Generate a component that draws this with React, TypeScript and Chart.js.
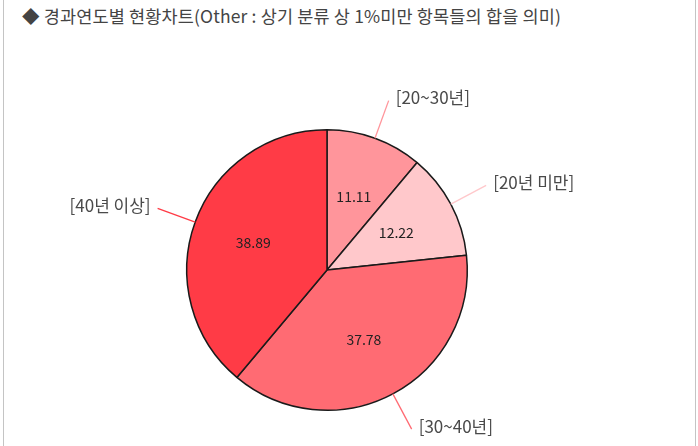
import React, { useEffect, useRef } from "react";
import { Chart, registerables } from "chart.js";

Chart.register(...registerables);

const categories = ["[20~30년]", "[20년 미만]", "[30~40년]", "[40년 이상]"];
const values = [11.11, 12.22, 37.78, 38.89];
const colors = ["#ff959b", "#ffc8cb", "#ff6b73", "#ff3b46"];
const title = "◆ 경과연도별 현황차트(Other : 상기 분류 상 1%미만 항목들의 합을 의미)";

const FONT = '"Noto Sans CJK KR", "Noto Sans", sans-serif';

const labelPlugin = {
  id: "pieLabels",
  afterDatasetsDraw(chart: any) {
    const ctx = chart.ctx;
    const meta = chart.getDatasetMeta(0);
    ctx.save();
    meta.data.forEach((arc: any, i: number) => {
      const { x, y, startAngle, endAngle, outerRadius } = arc.getProps(
        ["x", "y", "startAngle", "endAngle", "outerRadius"],
        true
      );
      const mid = (startAngle + endAngle) / 2;
      const cos = Math.cos(mid);
      const sin = Math.sin(mid);
      // value label
      const rv = outerRadius * 0.56;
      ctx.fillStyle = "#222";
      ctx.font = `14px ${FONT}`;
      ctx.textAlign = "center";
      ctx.textBaseline = "middle";
      ctx.fillText(values[i].toFixed(2), x + cos * rv, y + sin * rv);
      // leader line
      const x0 = x + cos * outerRadius;
      const y0 = y + sin * outerRadius;
      const x1 = x + cos * (outerRadius + 40);
      const y1 = y + sin * (outerRadius + 40);
      ctx.strokeStyle = colors[i];
      ctx.lineWidth = 1.3;
      ctx.beginPath();
      ctx.moveTo(x0, y0);
      ctx.lineTo(x1, y1);
      ctx.stroke();
      // category label
      ctx.fillStyle = "#4a4a4a";
      ctx.font = `17px ${FONT}`;
      ctx.textBaseline = "middle";
      if (cos >= 0) {
        ctx.textAlign = "left";
        ctx.fillText(categories[i], x1 + 7, y1 - 3);
      } else {
        ctx.textAlign = "right";
        ctx.fillText(categories[i], x1 - 7, y1 - 3);
      }
    });
    ctx.restore();
  },
};

export default function App() {
  const ref = useRef<HTMLCanvasElement>(null);
  useEffect(() => {
    if (!ref.current) return;
    const chart = new Chart(ref.current, {
      type: "pie",
      data: {
        labels: categories,
        datasets: [
          {
            data: values,
            backgroundColor: colors,
            borderColor: "#1a1a1a",
            borderWidth: 1.5,
          },
        ],
      },
      options: {
        responsive: false,
        animation: false,
        layout: { padding: { left: 186, right: 230, top: 129, bottom: 35 } },
        plugins: {
          legend: { display: false },
          tooltip: { enabled: false },
          title: { display: false },
        },
      },
      plugins: [labelPlugin],
    });
    return () => chart.destroy();
  }, []);
  return (
    <div
      style={{
        position: "fixed",
        left: 0,
        top: 0,
        width: 698,
        height: 446,
        background: "#fff",
        overflow: "hidden",
      }}
    >
      <div
        style={{
          position: "absolute",
          left: 3,
          top: 0,
          width: 691,
          height: 446,
          borderLeft: "1px solid #c4c4c4",
          borderRight: "1px solid #c4c4c4",
        }}
      />
      <div
        style={{
          position: "absolute",
          left: 22,
          top: 3,
          fontFamily: FONT,
          fontSize: 17.5,
          letterSpacing: 0.15,
          lineHeight: "26px",
          color: "#444",
          whiteSpace: "nowrap",
        }}
      >
        {title}
      </div>
      <canvas
        ref={ref}
        width={698}
        height={446}
        style={{ position: "absolute", left: 0, top: 0, width: 698, height: 446 }}
      />
    </div>
  );
}
